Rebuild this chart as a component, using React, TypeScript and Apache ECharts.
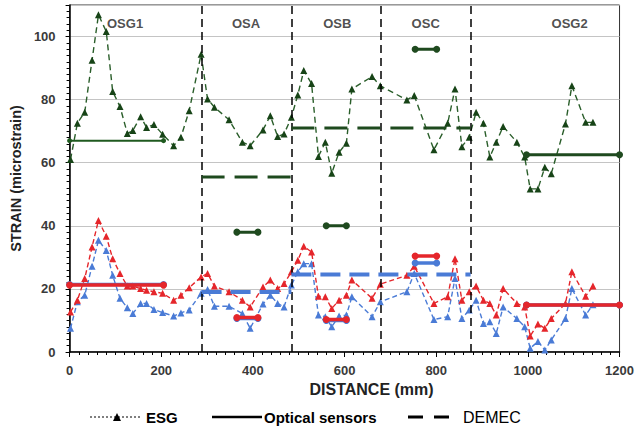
import React, { useEffect, useRef } from "react";
import * as echarts from "echarts";

// ---- data ----
const esgDistance = [2,17,33,49,63,80,94,110,126,138,155,168,184,203,227,243,261,287,301,316,348,377,394,422,438,454,468,484,498,511,528,543,558,572,588,604,616,660,678,736,752,795,825,841,856,872,887,903,917,931,946,976,993,1005,1022,1037,1051,1082,1096,1126,1142];
const esgGreen = [61,72.5,76,92.5,106.9,101.6,82.6,77.8,69.3,70.2,74.6,71.2,72.1,69,65.4,68.1,76.5,94.4,80.2,77.6,73.6,66.5,65.4,70.4,74.9,68.3,69.1,74.4,81.5,89.2,85.1,62,66.5,56.7,63.3,66.2,83.4,87.3,84.4,79.9,81.3,64.1,72.5,83.4,65.1,68.1,76,72.5,61.8,66.5,71.5,66.5,61.8,51.7,51.7,58.6,56.5,72.3,84.4,72.8,72.8];
const esgRed = [12.7,16.4,23.3,33.3,41.7,36.7,29.6,24.9,20.9,20.9,20.1,19.6,19.1,18.6,16.4,18,20.4,23.8,24.9,20.9,19.1,16.4,14.3,20.6,22.8,20.1,21.7,25.4,29.1,33.5,31.7,17.7,17.5,13.8,16.4,18,22.8,17,21.5,24.3,27.2,15.4,17.5,29.6,16.4,19.1,20.9,16.4,15.4,11.7,20.1,15.4,14.3,5.1,8.9,7.5,10.6,15.4,25.4,17.7,20.9];
const esgBlue = [7.5,15.9,18,27.2,35.4,32.2,24.3,17,14,12.2,15.4,15.4,13.5,12.5,11.4,12.4,13.3,18.6,19.8,14.5,14.5,12.2,7.5,15.2,18,15.4,14.3,21.2,25.4,28,28,11.7,11.2,8,11.4,11.7,17.5,11.2,15.9,19.1,24.9,10.3,11.2,23.3,10.6,13.3,16.4,9,9.6,5.9,14.3,10.6,8,1.2,3.3,0.6,3.8,10.6,20.1,11.7,15];

// optical sensors: [start, end, value]
const opticalGreen = [[0,205,67],[365,411,38],[560,604,40],[754,801,96],[997,1200,62.5]];
const opticalBlue = [[0,205,21.4],[365,411,10.6],[560,604,10],[754,801,28.2],[997,1200,14.9]];
const opticalRed = [[0,205,21.2],[365,411,10.9],[560,604,10.3],[754,801,30.4],[997,1200,14.9]];

// DEMEC: [start, end, value]
const demecGreen = [[288,484,55.5],[484,875,71]];
const demecBlue = [[288,484,19],[484,875,24.6]];

const sectionNames = ["OSG1","OSA","OSB","OSC","OSG2"];
const sectionLabelX = [121,385,584,777,1091];
const sectionLabelY = 104;
const sectionBounds = [288,484,680,875];

const xTicks = [0,200,400,600,800,1000,1200];

const GREEN_LINE = "#2a5e2a";
const GREEN_MARK = "#174417";
const RED = "#e5262b";
const BLUE = "#4a7bd6";
const FONT = "'Liberation Sans', Arial, sans-serif";

export default function App() {
  const ref = useRef<HTMLDivElement>(null);
  useEffect(() => {
    if (!ref.current) return;
    const chart = echarts.init(ref.current, undefined, { renderer: "svg" });

    const esg = (name: string, vals: number[], line: string, mark: string, dash: number[], z: number) => ({
      type: "line",
      name,
      data: esgDistance.map((d, i) => [d, vals[i]]),
      symbol: "triangle",
      symbolSize: 7,
      itemStyle: { color: mark },
      lineStyle: { color: line, width: 1.4, type: dash },
      z,
    });
    const segs = (arr: number[][], color: string, width: number, dash: any, symbol: string, size: number, z: number) =>
      arr.map((s) => ({
        type: "line",
        data: [[s[0], s[2]], [s[1], s[2]]],
        symbol,
        symbolSize: size,
        showSymbol: symbol !== "none",
        itemStyle: { color },
        lineStyle: { color, width, type: dash },
        z,
      }));

    const series: any[] = [
      {
        type: "line",
        data: [],
        markLine: {
          silent: true,
          symbol: "none",
          label: { show: false },
          lineStyle: { color: "#000", width: 1.5, type: [8, 5] },
          data: sectionBounds.map((x) => ({ xAxis: x })),
        },
        z: 1,
      },
      {
        type: "scatter",
        data: sectionLabelX.map((x, i) => [x, sectionLabelY, sectionNames[i]]),
        symbolSize: 0,
        label: {
          show: true,
          position: "inside",
          formatter: (p: any) => p.value[2],
          fontFamily: FONT,
          fontWeight: "bold",
          fontSize: 13,
          color: "#222",
        },
        z: 5,
      },
      esg("ESG green", esgGreen, GREEN_LINE, GREEN_MARK, [6, 4], 3),
      esg("ESG blue", esgBlue, BLUE, BLUE, [5, 3], 3),
      esg("ESG red", esgRed, RED, RED, [5, 3], 4),
      ...segs(opticalGreen.slice(0, 1), "#1f5a1f", 2, "solid", "circle", 5, 6),
      ...segs(opticalGreen.slice(1), "#1f4a1f", 3, "solid", "circle", 7, 6),
      ...segs(opticalBlue, BLUE, 3.5, "solid", "circle", 7, 6),
      ...segs(opticalRed, RED, 3.5, "solid", "circle", 7, 7),
      ...segs(demecGreen, "#1e4a1e", 3, [23, 10], "none", 0, 6),
      ...segs(demecBlue, BLUE, 4, [20, 9], "none", 0, 6),
    ];

    chart.setOption({
      animation: false,
      backgroundColor: "#fff",
      grid: { left: 68, right: 17, top: 5, bottom: 79, show: true, borderColor: "#333", borderWidth: 1 },
      xAxis: {
        type: "value",
        min: 0,
        max: 1200,
        interval: 200,
        name: "DISTANCE (mm)",
        nameLocation: "middle",
        nameGap: 27,
        nameTextStyle: { fontFamily: FONT, fontWeight: "bold", fontSize: 16, color: "#222", padding: [0, 0, 0, 54] },
        axisLine: { lineStyle: { color: "#000", width: 1.5 } },
        axisTick: { show: true, length: 5, lineStyle: { color: "#000" } },
        minorTick: { show: true, splitNumber: 10, length: 3, lineStyle: { color: "#000" } },
        splitLine: { show: false },
        axisLabel: {
          fontFamily: FONT,
          fontWeight: "bold",
          fontSize: 13,
          color: "#3a3a3a",
          margin: 12,
          formatter: (v: number) => (xTicks.includes(v) ? String(v) : ""),
        },
      },
      yAxis: {
        type: "value",
        min: 0,
        max: 110,
        interval: 20,
        name: "STRAIN (microstrain)",
        nameLocation: "middle",
        nameGap: 36,
        nameTextStyle: { fontFamily: FONT, fontWeight: "bold", fontSize: 14.5, color: "#222" },
        axisLine: { show: true, lineStyle: { color: "#000", width: 1.5 } },
        axisTick: { show: true, length: 4, lineStyle: { color: "#000" } },
        minorTick: { show: true, splitNumber: 10, length: 3, lineStyle: { color: "#000" } },
        splitLine: { show: true, lineStyle: { color: "#c4c4c4", width: 1 } },
        axisLabel: {
          fontFamily: FONT,
          fontWeight: "bold",
          fontSize: 13,
          color: "#3a3a3a",
          margin: 14,
          formatter: (v: number) => (v > 100 ? "" : String(v)),
        },
      },
      graphic: [
        { type: "line", shape: { x1: 90, y1: 417, x2: 142, y2: 417 }, style: { stroke: "#000", lineWidth: 1.2, lineDash: [2, 2] } },
        { type: "polygon", shape: { points: [[113, 421], [121, 421], [117, 413]] }, style: { fill: "#000" } },
        { type: "text", x: 146, y: 417, style: { text: "ESG", font: `bold 15px ${FONT}`, fill: "#000", verticalAlign: "middle" } },
        { type: "line", shape: { x1: 212, y1: 417, x2: 262, y2: 417 }, style: { stroke: "#000", lineWidth: 2.5 } },
        { type: "text", x: 264, y: 417, style: { text: "Optical sensors", font: `bold 15px ${FONT}`, fill: "#000", verticalAlign: "middle" } },
        { type: "line", shape: { x1: 408, y1: 417, x2: 452, y2: 417 }, style: { stroke: "#000", lineWidth: 3, lineDash: [15, 11] } },
        { type: "text", x: 463, y: 417, style: { text: "DEMEC", font: `16px ${FONT}`, fill: "#000", verticalAlign: "middle" } },
      ],
      series,
    });
    return () => chart.dispose();
  }, []);
  return <div ref={ref} style={{ width: 637, height: 431, position: "absolute", left: 0, top: 0 }} />;
}
